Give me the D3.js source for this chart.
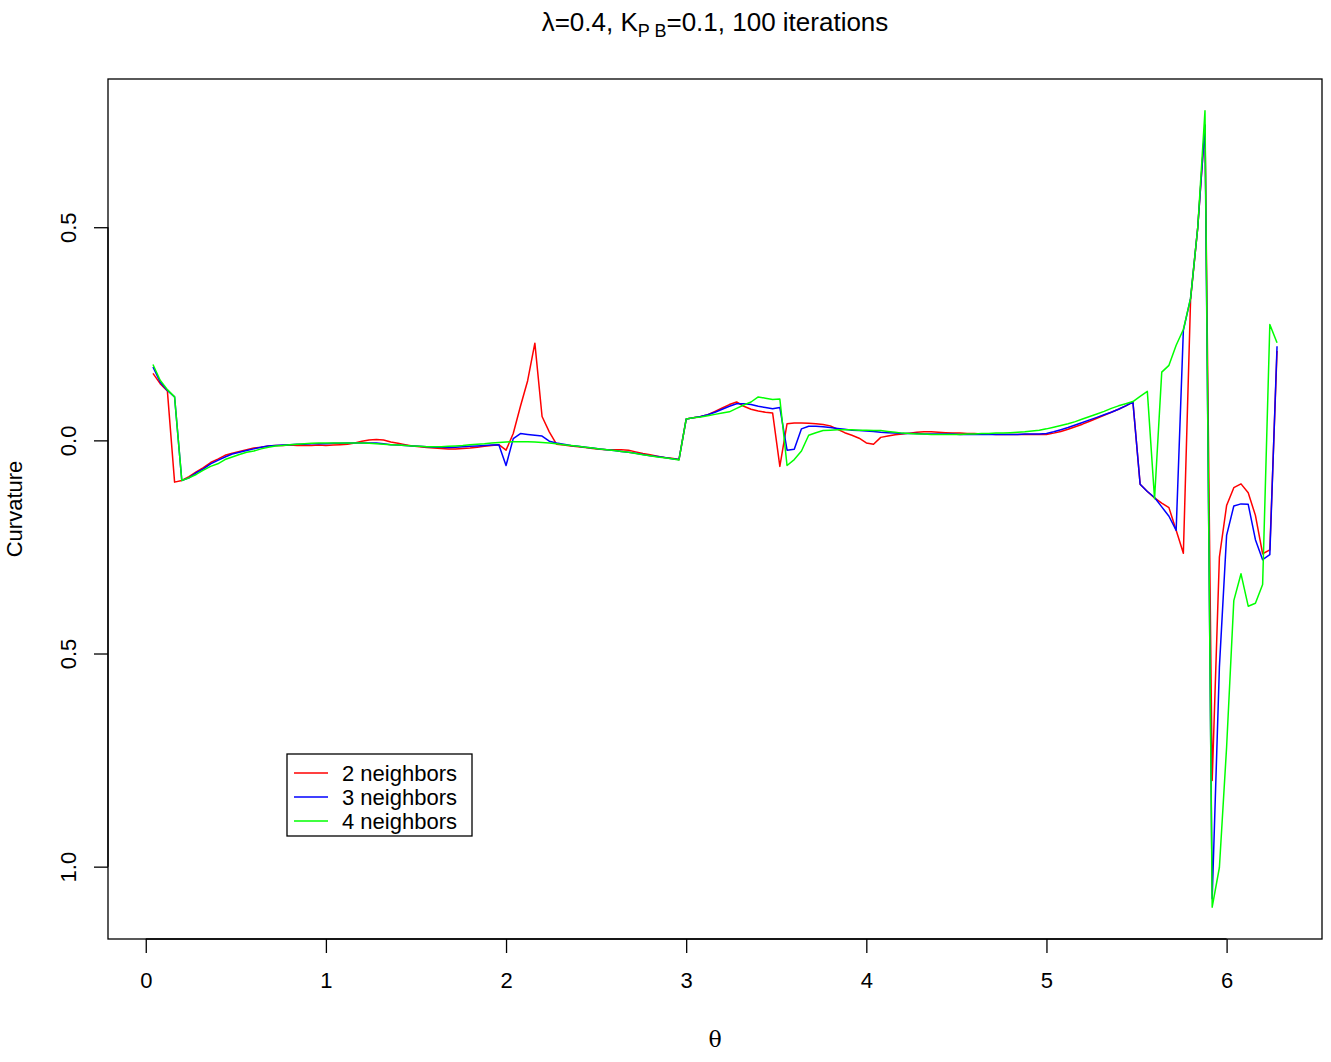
<!DOCTYPE html>
<html>
<head>
<meta charset="utf-8">
<script src="https://cdn.jsdelivr.net/npm/d3@7"></script>
<style>
  body { margin: 0; background: #fff; }
  svg { display: block; font-family: "Liberation Sans", Arial, sans-serif; }
</style>
</head>
<body>
<div id="wrapper"></div>
<script>
// theta grid, seq(0.04, 2*pi, by = 0.04)
const theta = d3.range(0.04, 2 * Math.PI, 0.04);

const seriesNames = ["2 neighbors", "3 neighbors", "4 neighbors"];
const seriesColors = ["#ff0000", "#0000ff", "#00ff00"];

const red = [
  0.157, 0.133, 0.116, -0.098, -0.094, -0.085, -0.074, -0.064, -0.052, -0.044,
  -0.035, -0.030, -0.026, -0.022, -0.018, -0.016, -0.013, -0.012, -0.012, -0.011,
  -0.012, -0.012, -0.012, -0.011, -0.012, -0.011, -0.010, -0.009, -0.006, -0.002,
  0.001, 0.002, 0.001, -0.004, -0.007, -0.010, -0.013, -0.015, -0.017, -0.018,
  -0.019, -0.020, -0.020, -0.019, -0.018, -0.016, -0.014, -0.012, -0.010, -0.023,
  0.016, 0.080, 0.140, 0.228, 0.056, 0.020, -0.009, -0.011, -0.013, -0.015,
  -0.017, -0.019, -0.021, -0.022, -0.022, -0.022, -0.023, -0.027, -0.031, -0.034,
  -0.037, -0.040, -0.042, -0.045, 0.050, 0.053, 0.056, 0.060, 0.068, 0.076,
  0.084, 0.090, 0.080, 0.073, 0.069, 0.066, 0.064, -0.061, 0.039, 0.041,
  0.041, 0.040, 0.039, 0.037, 0.034, 0.026, 0.018, 0.012, 0.005, -0.006,
  -0.009, 0.007, 0.010, 0.013, 0.015, 0.017, 0.019, 0.020, 0.020, 0.019,
  0.018, 0.017, 0.017, 0.016, 0.016, 0.015, 0.015, 0.014, 0.014, 0.014,
  0.014, 0.014, 0.014, 0.014, 0.014, 0.017, 0.021, 0.026, 0.032, 0.038,
  0.045, 0.052, 0.059, 0.066, 0.073, 0.081, 0.090, -0.103, -0.120, -0.135,
  -0.147, -0.158, -0.211, -0.265, 0.330, 0.500, 0.740, -0.798, -0.274, -0.153,
  -0.111, -0.102, -0.123, -0.176, -0.266, -0.257, 0.210
];

const blue = [
  0.172, 0.137, 0.117, 0.102, -0.094, -0.088, -0.076, -0.067, -0.055, -0.047,
  -0.039, -0.032, -0.028, -0.024, -0.020, -0.016, -0.013, -0.012, -0.011, -0.010,
  -0.009, -0.009, -0.008, -0.008, -0.008, -0.007, -0.007, -0.006, -0.006, -0.006,
  -0.006, -0.006, -0.008, -0.010, -0.011, -0.012, -0.013, -0.014, -0.015, -0.016,
  -0.016, -0.017, -0.016, -0.015, -0.014, -0.013, -0.012, -0.011, -0.010, -0.059,
  0.004, 0.016, 0.014, 0.012, 0.010, -0.002, -0.006, -0.009, -0.012, -0.014,
  -0.016, -0.018, -0.020, -0.022, -0.024, -0.026, -0.028, -0.030, -0.033, -0.036,
  -0.038, -0.040, -0.043, -0.045, 0.050, 0.053, 0.056, 0.060, 0.066, 0.073,
  0.080, 0.086, 0.086, 0.084, 0.080, 0.077, 0.074, 0.077, -0.023, -0.021,
  0.027, 0.033, 0.033, 0.032, 0.030, 0.028, 0.026, 0.024, 0.023, 0.022,
  0.021, 0.019, 0.018, 0.017, 0.016, 0.016, 0.016, 0.015, 0.015, 0.015,
  0.015, 0.015, 0.014, 0.014, 0.014, 0.014, 0.014, 0.014, 0.014, 0.014,
  0.014, 0.015, 0.015, 0.015, 0.016, 0.020, 0.025, 0.030, 0.036, 0.042,
  0.048, 0.054, 0.060, 0.066, 0.073, 0.081, 0.090, -0.103, -0.120, -0.134,
  -0.156, -0.178, -0.211, 0.258, 0.333, 0.500, 0.739, -1.075, -0.532, -0.223,
  -0.154, -0.149, -0.150, -0.233, -0.280, -0.268, 0.221
];

const green = [
  0.178, 0.141, 0.119, 0.102, -0.094, -0.088, -0.080, -0.070, -0.061, -0.055,
  -0.045, -0.039, -0.033, -0.028, -0.025, -0.020, -0.016, -0.013, -0.012, -0.010,
  -0.009, -0.008, -0.007, -0.006, -0.006, -0.006, -0.006, -0.006, -0.006, -0.006,
  -0.007, -0.008, -0.009, -0.010, -0.011, -0.012, -0.013, -0.014, -0.015, -0.015,
  -0.015, -0.014, -0.013, -0.012, -0.010, -0.009, -0.008, -0.006, -0.005, -0.004,
  -0.003, -0.003, -0.003, -0.004, -0.005, -0.006, -0.008, -0.010, -0.012, -0.014,
  -0.016, -0.018, -0.020, -0.022, -0.024, -0.026, -0.028, -0.031, -0.034, -0.036,
  -0.039, -0.041, -0.043, -0.046, 0.050, 0.053, 0.055, 0.058, 0.061, 0.064,
  0.067, 0.075, 0.083, 0.090, 0.102, 0.099, 0.096, 0.097, -0.059, -0.045,
  -0.025, 0.012, 0.018, 0.023, 0.024, 0.025, 0.025, 0.025, 0.024, 0.024,
  0.023, 0.023, 0.021, 0.019, 0.017, 0.016, 0.015, 0.015, 0.014, 0.014,
  0.014, 0.014, 0.014, 0.015, 0.015, 0.016, 0.016, 0.017, 0.017, 0.018,
  0.019, 0.020, 0.022, 0.024, 0.027, 0.031, 0.035, 0.039, 0.044, 0.050,
  0.056, 0.062, 0.068, 0.075, 0.081, 0.086, 0.091, 0.103, 0.115, -0.137,
  0.160, 0.176, 0.223, 0.260, 0.333, 0.500, 0.773, -1.095, -1.002, -0.720,
  -0.376, -0.313, -0.389, -0.382, -0.338, 0.272, 0.229
];

const xTicks = [0, 1, 2, 3, 4, 5, 6];
const yTicks = [0.5, 0, -0.5, -1.0];
// the labels as printed on the plot (no minus signs)
const yTickLabels = ["0.5", "0.0", "0.5", "1.0"];

const dimensions = {
  width: 1331,
  height: 1062,
  margin: { top: 79, right: 9, bottom: 123, left: 108 },
};
dimensions.boundedWidth = dimensions.width - dimensions.margin.left - dimensions.margin.right;
dimensions.boundedHeight = dimensions.height - dimensions.margin.top - dimensions.margin.bottom;

const allSeries = [red, blue, green];

// R style 4% padding on the data range
const pad = ([a, b]) => [a - 0.04 * (b - a), b + 0.04 * (b - a)];
const xScale = d3.scaleLinear()
  .domain(pad(d3.extent(theta)))
  .range([0, dimensions.boundedWidth]);
const yScale = d3.scaleLinear()
  .domain(pad(d3.extent(allSeries.flat())))
  .range([dimensions.boundedHeight, 0]);

const svg = d3.select("#wrapper")
  .append("svg")
  .attr("width", dimensions.width)
  .attr("height", dimensions.height);

const bounds = svg.append("g")
  .attr("transform", `translate(${dimensions.margin.left},${dimensions.margin.top})`);

const line = d3.line()
  .x((d, i) => xScale(theta[i]))
  .y((d) => yScale(d));

allSeries.forEach((s, i) => {
  bounds.append("path")
    .datum(s)
    .attr("d", line)
    .attr("fill", "none")
    .attr("stroke", seriesColors[i])
    .attr("stroke-width", 1.5)
    .attr("stroke-linejoin", "round");
});

// box
bounds.append("rect")
  .attr("width", dimensions.boundedWidth)
  .attr("height", dimensions.boundedHeight)
  .attr("fill", "none")
  .attr("stroke", "black")
  .attr("stroke-width", 1.3);

// x axis
const xAxis = d3.axisBottom(xScale)
  .tickValues(xTicks)
  .tickSize(14)
  .tickPadding(19)
  .tickFormat(d3.format("d"));

const xg = bounds.append("g")
  .attr("transform", `translate(0,${dimensions.boundedHeight})`)
  .call(xAxis);
xg.select(".domain")
  .attr("d", `M${xScale(xTicks[0])},0H${xScale(xTicks[xTicks.length - 1])}`)
  .attr("stroke-width", 1.3);
xg.selectAll(".tick line").attr("stroke-width", 1.3);
xg.selectAll("text")
  .style("font-size", "22px")
  .style("font-family", "Liberation Sans, Arial, sans-serif")
  .attr("fill", "black");

// y axis
const yAxis = d3.axisLeft(yScale)
  .tickValues(yTicks)
  .tickSize(14)
  .tickFormat((d, i) => yTickLabels[i]);

const yg = bounds.append("g").call(yAxis);
yg.select(".domain")
  .attr("d", `M0,${yScale(yTicks[0])}V${yScale(yTicks[yTicks.length - 1])}`)
  .attr("stroke-width", 1.3);
yg.selectAll(".tick line").attr("stroke-width", 1.3);
yg.selectAll("text")
  .attr("x", null)
  .attr("dy", null)
  .attr("text-anchor", "middle")
  .attr("transform", "translate(-32,0) rotate(-90)")
  .style("font-size", "22px")
  .style("font-family", "Liberation Sans, Arial, sans-serif")
  .attr("fill", "black");

// axis titles
svg.append("text")
  .attr("x", dimensions.margin.left + dimensions.boundedWidth / 2)
  .attr("y", 1047)
  .attr("text-anchor", "middle")
  .style("font-size", "22px")
  .style("font-family", "DejaVu Serif, serif")
  .text("θ");

svg.append("text")
  .attr("transform", `translate(22,${dimensions.margin.top + dimensions.boundedHeight / 2}) rotate(-90)`)
  .attr("text-anchor", "middle")
  .style("font-size", "22px")
  .text("Curvature");

// title
const title = svg.append("text")
  .attr("x", dimensions.margin.left + dimensions.boundedWidth / 2)
  .attr("y", 31)
  .attr("text-anchor", "middle")
  .style("font-size", "26px");
title.append("tspan").text("λ=0.4, K");
title.append("tspan").attr("dy", 6).style("font-size", "18px").text("P B");
title.append("tspan").attr("dy", -6).text("=0.1, 100 iterations");

// legend
const legend = svg.append("g").attr("transform", "translate(287,754)");
legend.append("rect")
  .attr("width", 185)
  .attr("height", 82)
  .attr("fill", "white")
  .attr("stroke", "black")
  .attr("stroke-width", 1.3);

seriesNames.forEach((name, i) => {
  const y = 19 + i * 24;
  legend.append("line")
    .attr("x1", 7).attr("x2", 41)
    .attr("y1", y).attr("y2", y)
    .attr("stroke", seriesColors[i])
    .attr("stroke-width", 1.5);
  legend.append("text")
    .attr("x", 55)
    .attr("y", y + 8)
    .style("font-size", "22px")
    .text(name);
});
</script>
</body>
</html>
